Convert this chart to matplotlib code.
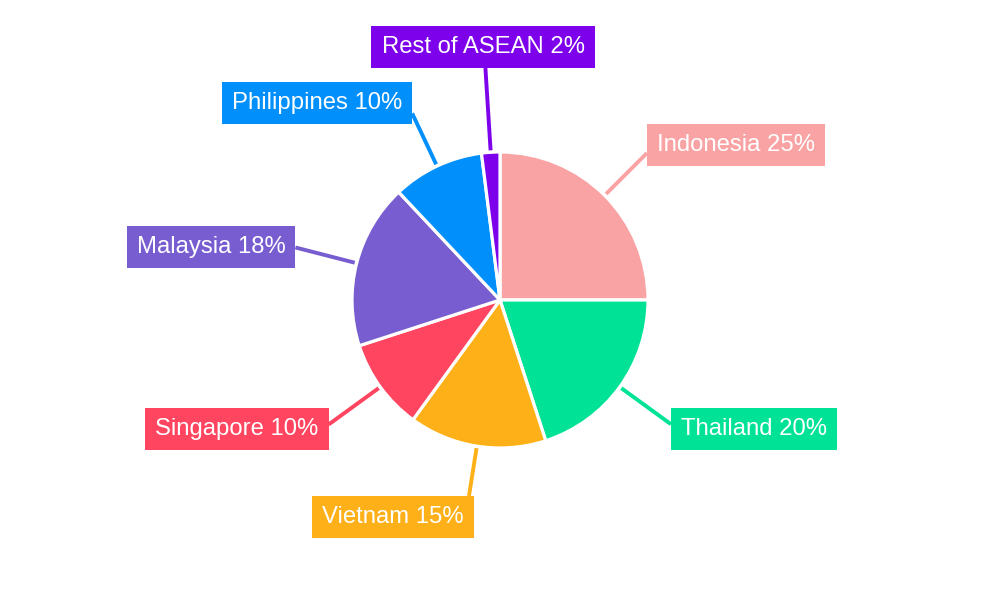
import numpy as np
import matplotlib
matplotlib.use("Agg")
import matplotlib.pyplot as plt
from matplotlib import font_manager as fm

# Share of the regional total by country
countries = ["Indonesia", "Thailand", "Vietnam", "Singapore", "Malaysia", "Philippines", "Rest of ASEAN"]
shares = [25, 20, 15, 10, 18, 10, 2]
colors = ["#F9A3A4", "#00E396", "#FEB019", "#FF4560", "#775DD0", "#008FFB", "#7D02EB"]

# Label box centres (pixel layout, y measured from the bottom)
label_pos = [(736, 456), (754, 172), (393, 84), (237, 172), (211, 354), (317, 498), (483, 554)]


def regular_sans():
    for f in fm.fontManager.ttflist:
        if f.fname.endswith("LiberationSans-Regular.ttf"):
            return fm.FontProperties(fname=f.fname, size=17.2)
    return fm.FontProperties(family="Liberation Sans", stretch="normal", size=17.2)


label_font = regular_sans()

W, H = 1000, 600
fig = plt.figure(figsize=(10, 6), dpi=100)
ax = fig.add_axes([0, 0, 1, 1])

cx, cy, R = 500, 300, 148
wedges, _ = ax.pie(
    shares, colors=colors, startangle=90, counterclock=False,
    center=(cx, cy), radius=R,
    wedgeprops=dict(edgecolor="white", linewidth=2.3),
)
ax.set_xlim(0, W)
ax.set_ylim(0, H)
ax.set_aspect("equal")
ax.axis("off")

texts = []
for name, val, col, (lx, ly) in zip(countries, shares, colors, label_pos):
    t = ax.text(lx, ly - 1, f"{name} {val}%", ha="center", va="center",
                fontproperties=label_font, color="white",
                bbox=dict(boxstyle="square,pad=0.42", facecolor=col, edgecolor="none"),
                zorder=5)
    texts.append(t)

fig.canvas.draw()
renderer = fig.canvas.get_renderer()
inv = ax.transData.inverted()

total = float(sum(shares))
cum = 0.0
for val, col, t in zip(shares, colors, texts):
    mid = cum + val / 2.0
    cum += val
    theta = np.deg2rad(90 - 360 * mid / total)
    d = np.array([np.cos(theta), np.sin(theta)])
    bb = t.get_bbox_patch().get_window_extent(renderer)
    (x0, y0), (x1, y1) = inv.transform([[bb.x0, bb.y0], [bb.x1, bb.y1]])
    # where the radial ray first enters the label box
    t_enter = 0.0
    for lo, hi, c0, dd in ((x0, x1, cx, d[0]), (y0, y1, cy, d[1])):
        if abs(dd) > 1e-9:
            ta, tb = (lo - c0) / dd, (hi - c0) / dd
            t_enter = max(t_enter, min(ta, tb))
    p0 = np.array([cx, cy]) + (R + 2) * d
    p1 = np.array([cx, cy]) + t_enter * d
    ax.plot([p0[0], p1[0]], [p0[1], p1[1]], color=col, linewidth=2.8,
            solid_capstyle="butt", zorder=4)

fig.savefig("out.png", dpi=100, facecolor="white")
